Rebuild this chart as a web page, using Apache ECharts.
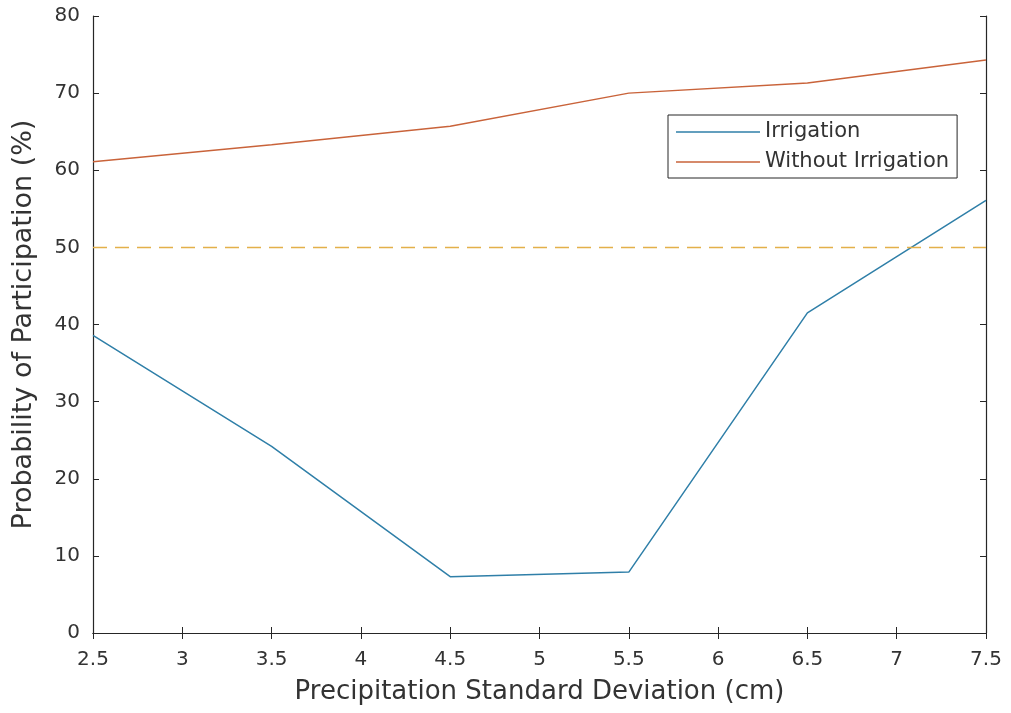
<!DOCTYPE html>
<html><head><meta charset="utf-8">
<script src="https://cdn.jsdelivr.net/npm/echarts@6/dist/echarts.min.js"></script>
<style>html,body{margin:0;padding:0;background:#fff}#c{width:1011px;height:713px}</style>
</head><body><div id="c"></div>
<script>
const xValues = [2.5, 3.5, 4.5, 5.5, 6.5, 7.5];
const irrigation = [38.6, 24.2, 7.3, 7.9, 41.5, 56.1];
const withoutIrrigation = [61.1, 63.3, 65.7, 70.0, 71.3, 74.3];
const threshold = 50;
const seriesNames = ['Irrigation', 'Without Irrigation'];

const font = '"DejaVu Sans", Verdana, sans-serif';
const ink = '#333333';
const axisLine = {show: true, lineStyle: {color: '#262626', width: 1.2}};
const tick = {show: true, inside: true, length: 6, lineStyle: {color: '#262626'}};
const chart = echarts.init(document.getElementById('c'));
chart.setOption({
  animation: false,
  grid: {left: 93, right: 25, top: 16, bottom: 80},
  legend: {
    orient: 'vertical', left: 668, top: 115,
    data: seriesNames, icon: 'rect', itemWidth: 84, itemHeight: 1.5, itemGap: 8,
    padding: [6, 8, 5, 8],
    borderColor: '#262626', borderWidth: 1, backgroundColor: '#fff',
    textStyle: {fontFamily: font, fontSize: 21, color: ink, lineHeight: 22}
  },
  xAxis: [{
    type: 'value', min: 2.5, max: 7.5, interval: 0.5,
    name: 'Precipitation Standard Deviation (cm)', nameLocation: 'middle', nameGap: 46,
    nameTextStyle: {fontFamily: font, fontSize: 26, color: ink},
    axisLine: axisLine, axisTick: tick, splitLine: {show: false},
    axisLabel: {fontFamily: font, fontSize: 20, color: ink, margin: 17}
  }, {
    type: 'value', position: 'top', min: 2.5, max: 7.5, interval: 0.5,
    axisLine: axisLine, axisTick: tick, splitLine: {show: false}, axisLabel: {show: false}
  }],
  yAxis: [{
    type: 'value', min: 0, max: 80, interval: 10,
    name: 'Probability of Participation (%)', nameLocation: 'middle', nameGap: 56,
    nameTextStyle: {fontFamily: font, fontSize: 27, color: ink},
    axisLine: axisLine, axisTick: tick, splitLine: {show: false},
    axisLabel: {fontFamily: font, fontSize: 20, color: ink, margin: 13}
  }, {
    type: 'value', position: 'right', min: 0, max: 80, interval: 10,
    axisLine: axisLine, axisTick: tick, splitLine: {show: false}, axisLabel: {show: false}
  }],
  series: [{
    name: seriesNames[0], type: 'line', symbol: 'none',
    data: xValues.map((x, i) => [x, irrigation[i]]),
    lineStyle: {color: '#2f7fa8', width: 1.5}, itemStyle: {color: '#2f7fa8'}
  }, {
    name: seriesNames[1], type: 'line', symbol: 'none',
    data: xValues.map((x, i) => [x, withoutIrrigation[i]]),
    lineStyle: {color: '#c9633a', width: 1.5}, itemStyle: {color: '#c9633a'}
  }, {
    name: 'threshold', type: 'line', symbol: 'none',
    data: [[xValues[0], threshold], [xValues[xValues.length - 1], threshold]],
    lineStyle: {color: '#e3b04a', width: 1.5, type: [14, 8]}
  }]
});
</script></body></html>
